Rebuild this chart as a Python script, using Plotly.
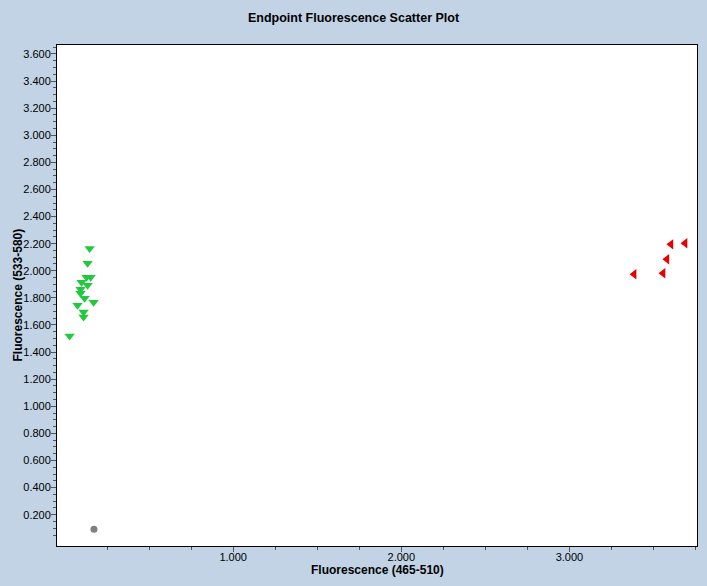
import plotly.graph_objects as go

# ---- data ----
green_x = [0.146, 0.134, 0.128, 0.152, 0.134, 0.098, 0.092, 0.092, 0.116, 0.170, 0.074, 0.110, 0.110, 0.027]
green_y = [2.165, 2.055, 1.952, 1.952, 1.893, 1.915, 1.864, 1.835, 1.798, 1.768, 1.746, 1.695, 1.658, 1.518]

red_x = [3.385, 3.557, 3.580, 3.604, 3.688]
red_y = [1.974, 1.982, 2.085, 2.195, 2.203]

gray_x = [0.172]
gray_y = [0.092]

x_ticks = [1.0, 2.0, 3.0]
x_tick_labels = ["1.000", "2.000", "3.000"]
x_minor = [0.25, 0.5, 0.75, 1.25, 1.5, 1.75, 2.25, 2.5, 2.75, 3.25, 3.5, 3.75]
y_ticks = [0.2, 0.4, 0.6, 0.8, 1.0, 1.2, 1.4, 1.6, 1.8, 2.0, 2.2, 2.4, 2.6, 2.8, 3.0, 3.2, 3.4, 3.6]
y_tick_labels = ["0.200", "0.400", "0.600", "0.800", "1.000", "1.200", "1.400", "1.600", "1.800",
                 "2.000", "2.200", "2.400", "2.600", "2.800", "3.000", "3.200", "3.400", "3.600"]
y_minor = [0.05 * i for i in range(1, 74) if i % 4 != 0]

FONT = "Liberation Sans, Arial, sans-serif"
W, H = 707, 586
ML, MR, MT, MB = 57, 10, 45, 40
PW, PH = W - ML - MR, H - MT - MB

fig = go.Figure()
fig.add_trace(go.Scatter(x=gray_x, y=gray_y, mode="markers",
                         marker=dict(symbol="circle", size=7, color="#808080"), showlegend=False))
fig.add_trace(go.Scatter(x=green_x, y=green_y, mode="markers",
                         marker=dict(symbol="triangle-down", size=9, color="#22c93f"), showlegend=False))
fig.add_trace(go.Scatter(x=red_x, y=red_y, mode="markers",
                         marker=dict(symbol="triangle-left", size=9, color="#e60000"), showlegend=False))

fig.update_layout(
    width=W, height=H,
    margin=dict(l=ML, r=MR, t=MT, b=MB, autoexpand=False),
    paper_bgcolor="#c1d3e5",
    plot_bgcolor="#ffffff",
    font=dict(family=FONT, size=11, color="#000000"),
    title=dict(text="<b>Endpoint Fluorescence Scatter Plot</b>", x=0.5, xanchor="center",
               y=1 - 18 / H, yanchor="middle", font=dict(size=12.5)),
    showlegend=False,
    annotations=[
        dict(text="<b>Fluorescence (533-580)</b>", textangle=-90, font=dict(size=12),
             xref="paper", yref="paper", x=(17 - ML) / PW, y=0.5,
             xanchor="center", yanchor="middle", showarrow=False),
        dict(text="<b>Fluorescence (465-510)</b>", font=dict(size=12),
             xref="paper", yref="paper", x=0.5, y=-(570 - (MT + PH)) / PH,
             xanchor="center", yanchor="middle", showarrow=False),
    ],
)
fig.update_xaxes(
    range=[-0.048, 3.759], showgrid=False, zeroline=False, automargin=False,
    showline=True, linecolor="#000000", linewidth=1, mirror=True,
    tickmode="array", tickvals=x_ticks, ticktext=x_tick_labels,
    ticks="outside", ticklen=5, tickcolor="#555555", tickfont=dict(size=11),
    ticklabelstandoff=-4,
    minor=dict(tickvals=x_minor, ticks="outside", ticklen=3, tickcolor="#555555"),
)
fig.update_yaxes(
    range=[-0.031, 3.666], showgrid=False, zeroline=False, automargin=False,
    showline=True, linecolor="#000000", linewidth=1, mirror=True,
    tickmode="array", tickvals=y_ticks, ticktext=y_tick_labels,
    ticks="outside", ticklen=5, tickcolor="#555555", tickfont=dict(size=11),
    ticklabelstandoff=-2,
    minor=dict(tickvals=y_minor, ticks="outside", ticklen=3, tickcolor="#555555"),
)

fig.write_html("out.html", config={"displayModeBar": False},
               post_script="document.body.style.margin='0px';document.body.style.overflow='hidden';")
